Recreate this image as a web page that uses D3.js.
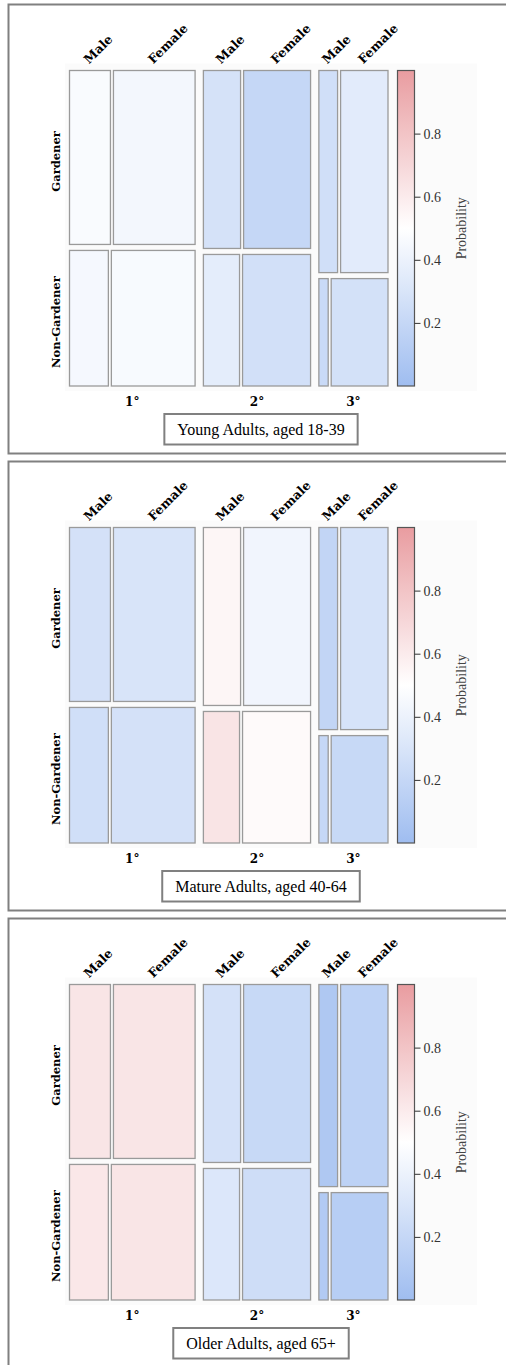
<!DOCTYPE html>
<html>
<head>
<meta charset="utf-8">
<title>Gardening mosaic</title>
<script src="https://cdnjs.cloudflare.com/ajax/libs/d3/7.8.5/d3.min.js"></script>
<style>
  body { margin: 0; background: #fff; }
</style>
</head>
<body>
<script>
// categories
var education = ["1°", "2°", "3°"];
var gardening = ["Gardener", "Non-Gardener"];
var sexes = ["Male", "Female"];
var panelTitles = ["Young Adults, aged 18-39", "Mature Adults, aged 40-64", "Older Adults, aged 65+"];

// mosaic shares (same for every panel)
var eduShare = [0.416, 0.355, 0.229];
var gardenerShare = [0.562, 0.575, 0.653];       // share of Gardener inside each education level
var maleShareGardener = [0.334, 0.357, 0.283];   // share of Male inside Gardener cells
var maleShareNonGardener = [0.317, 0.347, 0.141];

// probabilities, order: M1 F1 M2 F2 M3 F3
var youngGardener    = [0.47, 0.44, 0.28, 0.20, 0.255, 0.35];
var youngNonGardener = [0.45, 0.46, 0.36, 0.265, 0.22, 0.27];
var matureGardener    = [0.276, 0.297, 0.545, 0.427, 0.18, 0.286];
var matureNonGardener = [0.255, 0.276, 0.636, 0.525, 0.20, 0.21];
var olderGardener    = [0.63, 0.63, 0.276, 0.21, 0.083, 0.156];
var olderNonGardener = [0.62, 0.63, 0.318, 0.245, 0.10, 0.125];

var colorTicks = [0.2, 0.4, 0.6, 0.8];

var panels = [
  [youngGardener, youngNonGardener],
  [matureGardener, matureNonGardener],
  [olderGardener, olderNonGardener]
];

var width = 506, height = 1365;
var panelStep = 457, panelH = 449;
var left = 69.5, right = 388, eduGap = 8.3, sexGap = 3, rowGap = 6;
var plotTop = 66, plotBottom = 381.5;   // relative to panel top

var color = d3.scaleLinear()
  .domain([0, 0.5, 1])
  .range(["#9fbdf0", "#ffffff", "#e99ca0"]);

var svg = d3.select("body").append("svg")
  .attr("width", width)
  .attr("height", height);

// widths of education blocks
var usableW = (right - left) - eduGap * (education.length - 1);
var wScale = d3.scaleLinear().domain([0, 1]).range([0, usableW]);
var usableH = (plotBottom - plotTop) - rowGap;
var hScale = d3.scaleLinear().domain([0, 1]).range([0, usableH]);

var eduX = [];
var acc = left;
eduShare.forEach(function(s, i) {
  eduX.push({x: acc, w: wScale(s)});
  acc += wScale(s) + eduGap;
});

// overall gardener share for row label placement
var overallG = d3.sum(eduShare, function(s, i) { return s * gardenerShare[i]; });

var bar = d3.scaleLinear().domain([0, 1]).range([plotBottom, plotTop]);

var defs = svg.append("defs");
var grad = defs.append("linearGradient")
  .attr("id", "probGrad")
  .attr("x1", 0).attr("y1", 1).attr("x2", 0).attr("y2", 0);
d3.range(0, 1.001, 0.1).forEach(function(t) {
  grad.append("stop").attr("offset", t).attr("stop-color", color(t));
});

var labelFont = "DejaVu Serif, serif";

panels.forEach(function(probs, p) {
  var g = svg.append("g").attr("transform", "translate(0," + (4.5 + p * panelStep) + ")");

  g.append("rect")
    .attr("x", 8.5).attr("y", 0)
    .attr("width", 520).attr("height", panelH)
    .attr("fill", "#fff")
    .attr("stroke", "#808080")
    .attr("stroke-width", 2);

  g.append("rect")
    .attr("x", 65).attr("y", plotTop - 7)
    .attr("width", 412).attr("height", plotBottom - plotTop + 12)
    .attr("fill", "#fbfbfb");

  var tiles = [];
  education.forEach(function(e, i) {
    var ex = eduX[i];
    var gH = hScale(gardenerShare[i]);
    var rows = [
      {y: plotTop, h: gH, male: maleShareGardener[i], vals: probs[0]},
      {y: plotTop + gH + rowGap, h: usableH - gH, male: maleShareNonGardener[i], vals: probs[1]}
    ];
    rows.forEach(function(r, ri) {
      var inner = ex.w - sexGap;
      var mW = inner * r.male;
      tiles.push({x: ex.x, y: r.y, w: mW, h: r.h, v: r.vals[i * 2], row: ri, sex: 0, edu: i});
      tiles.push({x: ex.x + mW + sexGap, y: r.y, w: inner - mW, h: r.h, v: r.vals[i * 2 + 1], row: ri, sex: 1, edu: i});
    });
  });

  g.selectAll("rect.tile")
    .data(tiles)
    .enter().append("rect")
    .attr("class", "tile")
    .attr("x", function(d) { return d.x; })
    .attr("y", function(d) { return d.y; })
    .attr("width", function(d) { return d.w; })
    .attr("height", function(d) { return d.h; })
    .attr("fill", function(d) { return color(d.v); })
    .attr("stroke", "#9a9a9a")
    .attr("stroke-width", 1.3);

  // sex labels over the gardener row
  g.selectAll("text.sex")
    .data(tiles.filter(function(d) { return d.row === 0; }))
    .enter().append("text")
    .attr("class", "sex")
    .attr("transform", function(d) {
      return "translate(" + (d.x + d.w / 2 - 1) + "," + (plotTop - 6) + ") rotate(-45)";
    })
    .attr("font-family", labelFont)
    .attr("font-weight", "bold")
    .attr("font-size", 12.5)
    .text(function(d) { return sexes[d.sex]; });

  // row labels
  var gMid = plotTop + hScale(overallG) / 2;
  var ngMid = plotTop + hScale(overallG) + rowGap + (usableH - hScale(overallG)) / 2;
  [gMid, ngMid].forEach(function(m, i) {
    g.append("text")
      .attr("transform", "translate(60," + m + ") rotate(-90)")
      .attr("text-anchor", "middle")
      .attr("font-family", labelFont)
      .attr("font-weight", "bold")
      .attr("font-size", 11.5)
      .text(gardening[i]);
  });

  // education labels
  g.selectAll("text.edu")
    .data(education)
    .enter().append("text")
    .attr("class", "edu")
    .attr("x", function(d, i) { return eduX[i].x + eduX[i].w / 2; })
    .attr("y", 401.5)
    .attr("text-anchor", "middle")
    .attr("font-family", labelFont)
    .attr("font-weight", "bold")
    .attr("font-size", 12)
    .text(function(d) { return d; });

  // colour key
  g.append("rect")
    .attr("x", 397.5).attr("y", plotTop)
    .attr("width", 17).attr("height", plotBottom - plotTop)
    .attr("fill", "url(#probGrad)")
    .attr("stroke", "#555")
    .attr("stroke-width", 1.2);

  var axis = d3.axisRight(bar).tickValues(colorTicks).tickSize(6).tickSizeOuter(0)
    .tickFormat(d3.format(".1f"));
  var ax = g.append("g").attr("transform", "translate(414.5,0)").call(axis);
  ax.select(".domain").remove();
  ax.selectAll("line").attr("stroke", "#333");
  ax.selectAll("text")
    .attr("font-family", "Liberation Serif")
    .attr("font-size", 14)
    .attr("fill", "#333")
    .attr("x", 9);

  g.append("text")
    .attr("transform", "translate(466," + ((plotTop + plotBottom) / 2) + ") rotate(-90)")
    .attr("text-anchor", "middle")
    .attr("font-family", "Liberation Serif")
    .attr("font-size", 14)
    .attr("fill", "#444")
    .text("Probability");

  // title box
  var t = g.append("text")
    .attr("x", 261)
    .attr("y", 430.5)
    .attr("text-anchor", "middle")
    .attr("font-family", "Liberation Serif")
    .attr("font-size", 16)
    .text(panelTitles[p]);
  var tw = t.node().getComputedTextLength();
  g.insert("rect", function() { return t.node(); })
    .attr("x", 261 - tw / 2 - 13)
    .attr("y", 409.5)
    .attr("width", tw + 26)
    .attr("height", 30.5)
    .attr("fill", "#fff")
    .attr("stroke", "#808080")
    .attr("stroke-width", 2);
});
</script>
</body>
</html>
